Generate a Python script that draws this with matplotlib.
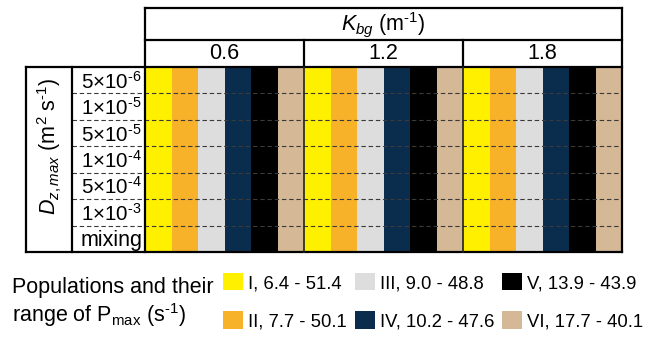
import matplotlib
matplotlib.use("Agg")
import matplotlib.pyplot as plt
from matplotlib.patches import Patch

plt.rcParams['font.family'] = ['Liberation Sans', 'DejaVu Sans']
plt.rcParams['mathtext.fontset'] = 'custom'
plt.rcParams['mathtext.rm'] = 'Liberation Sans'
plt.rcParams['mathtext.it'] = 'Liberation Sans:italic'
plt.rcParams['mathtext.bf'] = 'Liberation Sans:bold'

HY = '\u2010'  # short hyphen for superscripts

# ---- data ----
kbg_values = ['0.6', '1.2', '1.8']
dz_labels = ['5×10$^{\u2010 6}$', '1×10$^{\u2010 5}$', '5×10$^{\u2010 5}$', '1×10$^{\u2010 4}$',
             '5×10$^{\u2010 4}$', '1×10$^{\u2010 3}$', 'mixing']
populations = ['I', 'II', 'III', 'IV', 'V', 'VI']
pmax_low = [6.4, 7.7, 9.0, 10.2, 13.9, 17.7]
pmax_high = [51.4, 50.1, 48.8, 47.6, 43.9, 40.1]
pop_colors = ['#FFF000', '#F8B22A', '#DCDDDC', '#0A2D4E', '#000000', '#D5B895']

FS = 15.5
FS_ROW = 14.8
FS_LEG = 13.3
W, H = 648, 337
fig = plt.figure(figsize=(W / 100, H / 100), dpi=100)

# table axes: x from px 26 to 622, y from px 8 to 252
x0, x1, y0, y1 = 26, 622, 8, 252
ax = fig.add_axes([x0 / W, 1 - y1 / H, (x1 - x0) / W, (y1 - y0) / H])
n_pop = len(populations)
n_grp = len(kbg_values)
n_rows = len(dz_labels)
ncols = n_pop * n_grp
ax.set_xlim(-4.5, ncols)
row_h = 26.43
top = -(67 - 8) / row_h
mid = -(67 - 40) / row_h
ax.set_ylim(n_rows, top)
ax.axis('off')

# stripes
for g in range(n_grp):
    for p in range(n_pop):
        ax.bar(g * n_pop + p, n_rows, width=1, bottom=0, align='edge',
               color=pop_colors[p], linewidth=0, zorder=1)

# dashed row separators
for r in range(1, n_rows):
    ax.plot([-2.75, ncols], [r, r], color='#3a3a3a', lw=0.8,
            linestyle=(0, (4, 2.5)), zorder=2, clip_on=False)

lw = 1.6
kw = dict(color='black', lw=lw, zorder=3, clip_on=False, solid_capstyle='projecting')
ax.plot([0, ncols], [top, top], **kw)
ax.plot([0, ncols], [mid, mid], **kw)
ax.plot([-4.5, ncols], [0, 0], **kw)
ax.plot([-4.5, ncols], [n_rows, n_rows], **kw)
ax.plot([0, 0], [top, n_rows], **kw)
ax.plot([ncols, ncols], [top, n_rows], **kw)
ax.plot([-4.5, -4.5], [0, n_rows], **kw)
ax.plot([-2.75, -2.75], [0, n_rows], **kw)
for g in range(1, n_grp):
    ax.plot([g * n_pop, g * n_pop], [mid, 0], **kw)
    ax.plot([g * n_pop, g * n_pop], [0, n_rows], color='#222222', lw=1.2,
            zorder=3, clip_on=False)

# header texts
ax.text(ncols / 2, (30 - 67) / row_h, '$K_{bg}$ (m$^{' + HY + '1}$)', ha='center',
        va='baseline', fontsize=FS)
for g, kv in enumerate(kbg_values):
    ax.text(g * n_pop + n_pop / 2, (59 - 67) / row_h, kv, ha='center',
            va='baseline', fontsize=FS)

# row labels
for r, lab in enumerate(dz_labels):
    fs = FS if lab == 'mixing' else FS_ROW
    ax.text(-2.44, r + 0.55, lab, ha='left', va='center', fontsize=fs)

ax.text(-3.62, 3.0, '$D_{z,max}$ (m$^{2}$ s$^{' + HY + '1}$)', rotation=90,
        ha='center', va='center', fontsize=FS)

# legend
fig.text(12 / W, 1 - 293 / H, 'Populations and their', fontsize=FS,
         ha='left', va='baseline')
fig.text(12 / W, 1 - 322 / H, r'range of P$_{\mathrm{max}}$ (s$^{' + HY + '1}$)',
         fontsize=FS, ha='left', va='baseline')

handles = [Patch(facecolor=c, edgecolor='none') for c in pop_colors]
labels = [f'{p}, {lo:.1f} - {hi:.1f}' for p, lo, hi in zip(populations, pmax_low, pmax_high)]
col_x = [223, 355, 502]
for c in range(3):
    leg = fig.legend(handles[2 * c:2 * c + 2], labels[2 * c:2 * c + 2], loc='upper left',
                     bbox_to_anchor=(col_x[c] / W, 1 - 273 / H), frameon=False,
                     fontsize=FS_LEG, handlelength=1.08, handleheight=1.08,
                     handletextpad=0.3, labelspacing=1.05,
                     borderpad=0, borderaxespad=0)

fig.savefig('out.png', dpi=100)
